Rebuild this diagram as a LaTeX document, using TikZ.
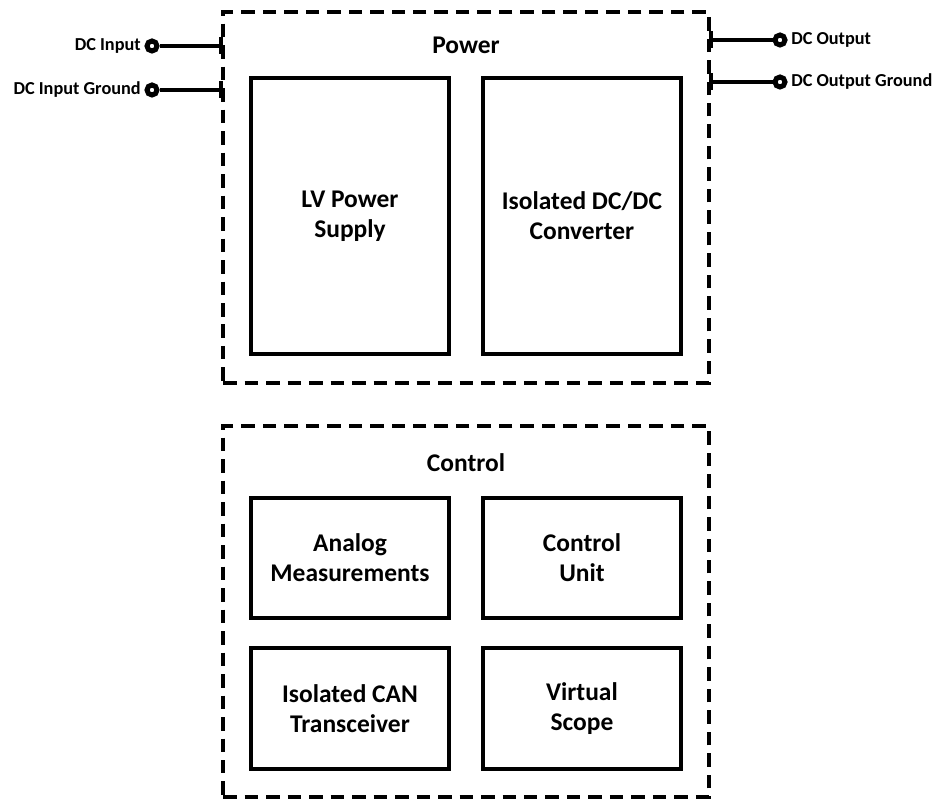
\documentclass[tikz,border=0pt]{standalone}
\usepackage{fontspec}
\setmainfont{Carlito}
\usetikzlibrary{positioning, arrows.meta}

\begin{document}
\begin{tikzpicture}[x=0.02cm, y=-0.02cm, line width=0.08cm, node distance=3.02cm and 4.64cm, on grid,
	group/.style={draw, dash pattern=on 0.27cm off 0.16cm, minimum width=9.72cm, minimum height=7.42cm},
	block/.style={draw, align=center, minimum width=3.96cm, font=\bfseries\fontsize{14.5}{17}\selectfont},
	title/.style={font=\bfseries\fontsize{14.5}{17}\selectfont},
	term/.style={circle, draw, fill=white, line width=0.1cm, inner sep=0pt, minimum size=0.2cm},
	tlabel/.style={font=\bfseries\fontsize{10.4}{12}\selectfont, inner sep=1pt}]
	\useasboundingbox (0,0) rectangle (940,800);
	
	\node[group] (power) at (466,197.5) {};
	\node[title] (power_t) at (466,45) {Power};
	\node[block, minimum height=5.52cm] (lv) at (350,216) {LV Power\\Supply};
	\node[block, minimum height=5.52cm, right=of lv] (dcdc) {Isolated DC/DC\\Converter};
	
	\node[group] (control) at (466,611.5) {};
	\node[title] (control_t) at (466,463) {Control};
	\node[block, minimum height=2.42cm] (analog) at (350,558) {Analog\\Measurements};
	\node[block, minimum height=2.42cm, right=of analog] (cu) {Control\\Unit};
	\node[block, minimum height=2.42cm, below=of analog] (can) {Isolated CAN\\Transceiver};
	\node[block, minimum height=2.42cm, below=of cu] (scope) {Virtual\\Scope};
	
	% terminals
	\coordinate (in_a) at (223,46);
	\coordinate (in_b) at (223,90);
	\coordinate (out_a) at (709,40);
	\coordinate (out_b) at (709,82);
	\node[term, label={[tlabel]left:DC Input}] (dc_in) at (152,46) {};
	\node[term, label={[tlabel]left:DC Input Ground}] (dc_in_gnd) at (152,90) {};
	\node[term, label={[tlabel]right:DC Output}] (dc_out) at (780,40) {};
	\node[term, label={[tlabel]right:DC Output Ground}] (dc_out_gnd) at (780,82) {};
	
	\path[{Bar[width=0.34cm]}-]
	(in_a) edge (dc_in)
	(in_b) edge (dc_in_gnd)
	(out_a) edge (dc_out)
	(out_b) edge (dc_out_gnd);
\end{tikzpicture}
\end{document}
